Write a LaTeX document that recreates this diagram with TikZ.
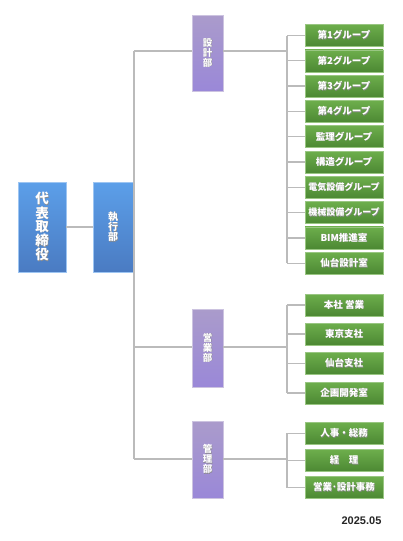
\documentclass[tikz,border=0pt]{standalone}
\usepackage{fontspec}
\setmainfont{Liberation Sans}
\newfontfamily\jp{Noto Sans CJK JP}
\definecolor{bluetop}{HTML}{5C9FE9}
\definecolor{bluebot}{HTML}{4A7BC2}
\definecolor{purtop}{HTML}{AA9BCB}
\definecolor{purbot}{HTML}{9A88D8}
\definecolor{grtop}{HTML}{6DAE4C}
\definecolor{grbot}{HTML}{4C8833}
\definecolor{lncol}{HTML}{BBBBBB}
\newcommand\shd[1]{\makebox[0pt][l]{\hspace{0.5pt}\raisebox{-0.5pt}{\color{black!45}#1}}#1}
\begin{document}
\begin{tikzpicture}[x=1pt,y=-1pt,
  basebox/.style={rectangle, inner sep=0pt, text=white, align=center, line width=0.5pt},
  bluebox/.style={basebox, top color=bluetop, bottom color=bluebot, draw=bluetop!60!white},
  purbox/.style={basebox, top color=purtop, bottom color=purbot, draw=purtop!60!white,
    minimum width=31pt, font=\jp\bfseries\fontsize{9.5}{10}\selectfont},
  grbox/.style={basebox, top color=grtop, bottom color=grbot, draw=grtop!70!white,
    minimum width=78pt, minimum height=22pt, font=\jp\bfseries\fontsize{9.5}{10}\selectfont},
  conn/.style={draw=lncol, line width=1.3pt}]
\fill[white] (0,0) rectangle (403,541);
\useasboundingbox (0,0) rectangle (403,541);

% top levels
\node[bluebox, minimum width=48pt, minimum height=90pt,
  font=\jp\bfseries\fontsize{13.5}{13}\selectfont] (ceo) at (42,227)
  {\shd{代}\\\shd{表}\\\shd{取}\\\shd{締}\\\shd{役}};
\node[bluebox, minimum width=40pt, minimum height=90pt,
  font=\jp\bfseries\fontsize{10}{10.3}\selectfont] (exec) at (113,227)
  {\shd{執}\\\shd{行}\\\shd{部}};

\node[purbox, minimum height=76pt] (bu1) at (207.5,53) {\shd{設}\\\shd{計}\\\shd{部}};
\node[purbox, minimum height=78pt] (bu2) at (207.5,348) {\shd{営}\\\shd{業}\\\shd{部}};
\node[purbox, minimum height=77pt] (bu3) at (207.5,459.5) {\shd{管}\\\shd{理}\\\shd{部}};

% trunk
\coordinate (t1) at (134,51);
\coordinate (t2) at (134,347);
\coordinate (t3) at (134,459);
\draw[conn] (ceo) -- (exec);
\draw[conn] (t1) -- (t3);
\draw[conn] (t1) -- (t1 -| bu1.west);
\draw[conn] (t2) -- (t2 -| bu2.west);
\draw[conn] (t3) -- (t3 -| bu3.west);

% design groups
\coordinate (v1) at (287,51);
\coordinate (v2) at (287,347);
\coordinate (v3) at (287,459);
\foreach \n/\yy/\t in {1/35.5/第1グループ, 2/60.8/第2グループ, 3/86.1/第3グループ,
  4/111.4/第4グループ, 5/136.7/監理グループ, 6/162/構造グループ,
  7/187.3/{\fontsize{9}{9}\selectfont 電気設備グループ},
  8/212.6/{\fontsize{9}{9}\selectfont 機械設備グループ},
  9/237.9/BIM推進室, 10/263.2/仙台設計室}{
  \node[grbox] (g\n) at (344,\yy) {\shd{\t}};
  \draw[conn] (v1 |- g\n) -- (g\n.west);
}
\draw[conn] (bu1.east |- v1) -- (v1);
\draw[conn] (v1 |- g1) -- (v1 |- g10);

% sales groups
\foreach \n/\yy/\t in {1/305/本社 営業, 2/334/東京支社, 3/363.5/仙台支社, 4/393/企画開発室}{
  \node[grbox] (e\n) at (344,\yy) {\shd{\t}};
  \draw[conn] (v2 |- e\n) -- (e\n.west);
}
\draw[conn] (bu2.east |- v2) -- (v2);
\draw[conn] (v2 |- e1) -- (v2 |- e4);

% admin groups
\foreach \n/\yy/\t in {1/433.3/人事・総務, 2/460.5/経　理, 3/487.5/営業･設計事務}{
  \node[grbox] (k\n) at (344,\yy) {\shd{\t}};
  \draw[conn] (v3 |- k\n) -- (k\n.west);
}
\draw[conn] (bu3.east |- v3) -- (v3);
\draw[conn] (v3 |- k1) -- (v3 |- k3);

\node[font=\bfseries\fontsize{11}{11}\selectfont, text=black!85] (date) at (361.5,521) {2025.05};
\end{tikzpicture}
\end{document}
